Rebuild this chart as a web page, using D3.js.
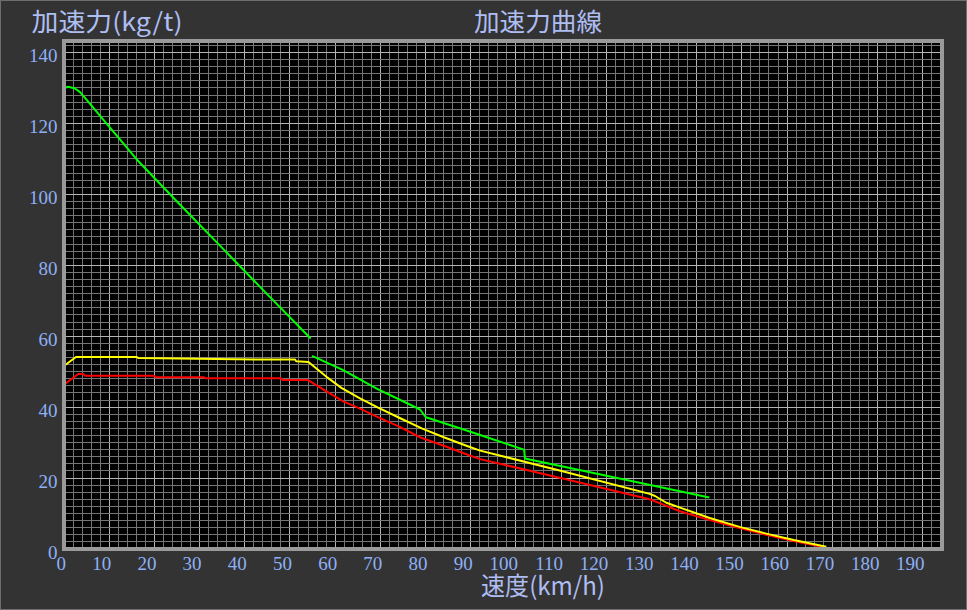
<!DOCTYPE html>
<html><head><meta charset="utf-8">
<script src="https://cdn.jsdelivr.net/npm/d3@7"></script>
<style>html,body{margin:0;padding:0;background:#333;}svg{display:block;}</style>
</head><body>
<svg id="c" width="967" height="610"></svg>
<script>
// ---- data ----
const xTicks = [0,10,20,30,40,50,60,70,80,90,100,110,120,130,140,150,160,170,180,190];
const yTicks = [0,20,40,60,80,100,120,140];
const titleText = "加速力曲線";
const yTitleText = "加速力(kg/t)";
const xTitleText = "速度(km/h)";
// green: two pieces
const greenA = [[0,129.8],[1.06,130.2],[2.55,129.7],[3.65,128.7],[5,126.7],[7.5,122.9],[10,119.1],[13,114.6],[16.2,109.7],[25,98.0],[35,84.9],[45,71.8],[54.7,59.2]];
const greenB = [[55.0,54.3],[61.9,50.3],[69.3,45.1],[78.9,39.2],[79.6,38.0],[80.2,37.0],[87.7,33.9],[92.2,32.0],[101.7,27.95],[101.95,27.8],[102.1,25.4],[122,20.0],[142.9,14.4]];
const yellow = [[0,51.4],[2.77,54.0],[16.2,54.0],[16.6,53.7],[43.5,53.3],[51.2,53.3],[51.5,52.8],[54.2,52.6],[58.2,48.4],[61.5,45.3],[65.5,42.4],[69.5,39.8],[74.4,36.8],[79.4,33.8],[84.3,31.3],[89.3,28.9],[92.2,27.6],[110,21.9],[129.7,15.4],[130.9,14.8],[133.4,12.9],[136.9,11.3],[143.0,8.6],[149.6,6.1],[155.5,4.2],[161.6,2.4],[168.8,0.5]];
const red = [[0,46.1],[3.28,49.2],[4.37,49.2],[4.77,48.7],[20.0,48.7],[20.4,48.3],[31.0,48.3],[31.4,48.0],[48.1,48.0],[48.5,47.5],[54.1,47.5],[58.2,44.3],[61.9,41.5],[65.5,39.5],[69.3,37.2],[74.4,34.3],[79.0,31.3],[84.3,28.9],[89.3,26.5],[92.2,25.2],[110,19.9],[129.7,13.9],[131.9,12.8],[136.4,10.5],[143.0,8.0],[149.6,5.8],[155.5,3.9],[161.6,2.1],[169.1,0.1]];

// ---- layout ----
const svg = d3.select("#c");
const W = 967, H = 610;
const x = d3.scaleLinear().domain([0,194.4]).range([63.5,942]);
const y = d3.scaleLinear().domain([0,143.1]).range([548.5,41]);

svg.append("rect").attr("x",0.5).attr("y",0.5).attr("width",W-1).attr("height",H-1)
  .attr("fill","#333333").attr("stroke","#6e6e6e");

svg.append("rect").attr("x",64).attr("y",41).attr("width",878).attr("height",508).attr("fill","#000");

const g = svg.append("g");
const xMinor = d3.range(2,195,2), yMinor = d3.range(2,143,2);
g.selectAll(".vx").data(xMinor).join("line")
  .attr("x1",d=>Math.round(x(d))+0.5).attr("x2",d=>Math.round(x(d))+0.5)
  .attr("y1",41).attr("y2",549)
  .attr("stroke",d=>d%10===0?"#b4b4b4":"#767676").attr("stroke-width",1);
g.selectAll(".hy").data(yMinor).join("line")
  .attr("y1",d=>Math.round(y(d))+0.5).attr("y2",d=>Math.round(y(d))+0.5)
  .attr("x1",64).attr("x2",942)
  .attr("stroke",d=>d%20===0?"#b4b4b4":"#767676").attr("stroke-width",1);

const line = d3.line().x(d=>x(d[0])).y(d=>y(d[1]));
const series = [[red,"#ff0000"],[yellow,"#ffff00"],[greenA,"#00ff00"],[greenB,"#00ff00"]];
series.forEach(([d,c])=>{
  svg.append("path").datum(d).attr("d",line).attr("fill","none")
    .attr("stroke",c).attr("stroke-width",2).attr("stroke-linejoin","round");
});

// frame
svg.append("rect").attr("x",64).attr("y",41).attr("width",878).attr("height",508)
  .attr("fill","none").attr("stroke","#9a9a9a").attr("stroke-width",4);

// tick labels
const tickFont = "'Liberation Serif','Times New Roman',serif";
svg.selectAll(".yl").data(yTicks).join("text")
  .attr("x",57.5).attr("y",d=>y(d)+10).attr("text-anchor","end")
  .attr("font-family",tickFont).attr("font-size",19).attr("fill","#8eb0f6").text(d=>d);
svg.selectAll(".xl").data(xTicks).join("text")
  .attr("x",d=>x(d)+2.5).attr("y",570).attr("text-anchor","end")
  .attr("font-family",tickFont).attr("font-size",19).attr("fill","#8eb0f6").text(d=>d);

const cjk = "'Noto Sans CJK JP','Noto Sans CJK SC',sans-serif";
svg.append("text").attr("x",31.5).attr("y",31).attr("font-family",cjk).attr("font-size",25)
  .attr("fill","#aebdf2").attr("textLength",151).attr("lengthAdjust","spacingAndGlyphs").text(yTitleText);
svg.append("text").attr("x",474).attr("y",31).attr("font-family",cjk).attr("font-size",25)
  .attr("fill","#aebdf2").attr("textLength",128).attr("lengthAdjust","spacingAndGlyphs").text(titleText);
svg.append("text").attr("x",481).attr("y",595).attr("font-family",cjk).attr("font-size",25)
  .attr("fill","#aebdf2").attr("textLength",124).attr("lengthAdjust","spacingAndGlyphs").text(xTitleText);
</script>
</body></html>
